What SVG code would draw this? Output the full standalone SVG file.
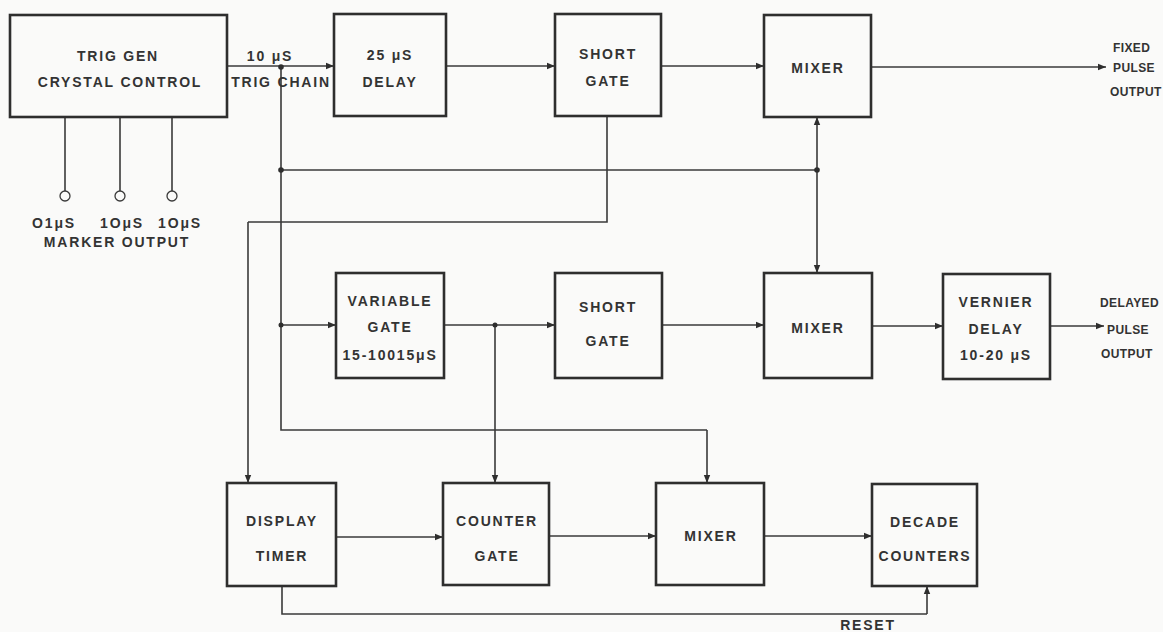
<svg xmlns="http://www.w3.org/2000/svg" width="1163" height="632" viewBox="0 0 1163 632">
<defs>
<style>
.box{fill:none;stroke:#2e2e2e;stroke-width:2.6}
.ln{fill:none;stroke:#3a3a3a;stroke-width:1.6}
.arr{fill:none;stroke:#3a3a3a;stroke-width:1.6;marker-end:url(#ah)}
.t{font-family:"Liberation Sans",Arial,sans-serif;font-weight:bold;font-size:14px;fill:#333;text-anchor:middle;letter-spacing:1.8px}
.tl{font-family:"Liberation Sans",Arial,sans-serif;font-weight:bold;font-size:12px;fill:#333;text-anchor:start;letter-spacing:0.4px}
.dot{fill:#2e2e2e}
.term{fill:none;stroke:#3a3a3a;stroke-width:1.3}
</style>
<marker id="ah" viewBox="0 0 10 10" refX="10" refY="5" markerWidth="8" markerHeight="8" markerUnits="userSpaceOnUse" orient="auto">
<path d="M0,1 L10,5 L0,9 Z" fill="#2e2e2e"/>
</marker>
</defs>
<rect width="1163" height="632" fill="#fafaf9"/>

<g id="connectors">
<line class="ln" x1="65" y1="117" x2="65" y2="191"/>
<line class="ln" x1="120" y1="117" x2="120" y2="191"/>
<line class="ln" x1="172" y1="117" x2="172" y2="191"/>
<circle class="term" cx="65" cy="196" r="5"/>
<circle class="term" cx="120" cy="196" r="5"/>
<circle class="term" cx="172" cy="196" r="5"/>
<line class="arr" x1="227" y1="66" x2="334" y2="66"/>
<line class="arr" x1="446" y1="66" x2="555" y2="66"/>
<line class="arr" x1="661" y1="66" x2="764" y2="66"/>
<line class="arr" x1="871" y1="67" x2="1106" y2="67"/>
<polyline class="ln" points="281,67 281,430 707,430"/>
<line class="arr" x1="707" y1="430" x2="707" y2="483"/>
<line class="ln" x1="281" y1="170" x2="817" y2="170"/>
<line class="arr" x1="817" y1="170" x2="817" y2="117"/>
<line class="arr" x1="817" y1="170" x2="817" y2="273"/>
<polyline class="ln" points="607,116 607,222 248,222"/>
<line class="arr" x1="248" y1="222" x2="248" y2="483"/>
<line class="arr" x1="281" y1="325" x2="336" y2="325"/>
<line class="arr" x1="444" y1="325" x2="555" y2="325"/>
<line class="arr" x1="495" y1="325" x2="495" y2="483"/>
<line class="arr" x1="662" y1="325" x2="764" y2="325"/>
<line class="arr" x1="872" y1="326" x2="943" y2="326"/>
<line class="arr" x1="1050" y1="326" x2="1104" y2="326"/>
<line class="arr" x1="336" y1="537" x2="443" y2="537"/>
<line class="arr" x1="549" y1="536" x2="656" y2="536"/>
<line class="arr" x1="764" y1="536" x2="872" y2="536"/>
<polyline class="ln" points="282,586 282,614 927,614"/>
<line class="arr" x1="927" y1="614" x2="927" y2="586"/>
<circle class="dot" cx="281" cy="67" r="2.8"/>
<circle class="dot" cx="281" cy="170" r="2.8"/>
<circle class="dot" cx="817" cy="170" r="2.8"/>
<circle class="dot" cx="281" cy="325" r="2.5"/>
<circle class="dot" cx="495" cy="325" r="2.5"/>
</g>

<g id="trig-gen">
<rect class="box" x="10" y="15" width="217" height="102"/>
<text class="t" x="118" y="61">TRIG   GEN</text>
<text class="t" x="120" y="87">CRYSTAL  CONTROL</text>
</g>
<g id="marker-labels">
<text class="t" x="54" y="228">O1μS</text>
<text class="t" x="122" y="228">1OμS</text>
<text class="t" x="180" y="228">1OμS</text>
<text class="t" x="117" y="247">MARKER  OUTPUT</text>
</g>
<g id="trig-chain-label">
<text class="t" x="270" y="61">10 μS</text>
<text class="t" x="281" y="87">TRIG CHAIN</text>
</g>
<g id="delay25">
<rect class="box" x="334" y="14" width="112" height="102"/>
<text class="t" x="390" y="60">25 μS</text>
<text class="t" x="390" y="87">DELAY</text>
</g>
<g id="short-gate-1">
<rect class="box" x="555" y="14" width="106" height="102"/>
<text class="t" x="608" y="59">SHORT</text>
<text class="t" x="608" y="86">GATE</text>
</g>
<g id="mixer-1">
<rect class="box" x="764" y="15" width="107" height="102"/>
<text class="t" x="818" y="73">MIXER</text>
</g>
<g id="fixed-output">
<text class="tl" x="1113" y="52">FIXED</text>
<text class="tl" x="1113" y="72">PULSE</text>
<text class="tl" x="1110" y="96">OUTPUT</text>
</g>
<g id="variable-gate">
<rect class="box" x="336" y="273" width="108" height="105"/>
<text class="t" x="390" y="306">VARIABLE</text>
<text class="t" x="390" y="332">GATE</text>
<text class="t" x="390" y="360">15-10015μS</text>
</g>
<g id="short-gate-2">
<rect class="box" x="555" y="273" width="107" height="105"/>
<text class="t" x="608" y="312">SHORT</text>
<text class="t" x="608" y="346">GATE</text>
</g>
<g id="mixer-2">
<rect class="box" x="764" y="273" width="108" height="105"/>
<text class="t" x="818" y="333">MIXER</text>
</g>
<g id="vernier-delay">
<rect class="box" x="943" y="274" width="107" height="105"/>
<text class="t" x="996" y="307">VERNIER</text>
<text class="t" x="996" y="334">DELAY</text>
<text class="t" x="996" y="360">10-20 μS</text>
</g>
<g id="delayed-output">
<text class="tl" x="1100" y="307">DELAYED</text>
<text class="tl" x="1107" y="334">PULSE</text>
<text class="tl" x="1101" y="358">OUTPUT</text>
</g>
<g id="display-timer">
<rect class="box" x="227" y="483" width="109" height="103"/>
<text class="t" x="282" y="526">DISPLAY</text>
<text class="t" x="282" y="561">TIMER</text>
</g>
<g id="counter-gate">
<rect class="box" x="443" y="483" width="106" height="102"/>
<text class="t" x="497" y="526">COUNTER</text>
<text class="t" x="497" y="561">GATE</text>
</g>
<g id="mixer-3">
<rect class="box" x="656" y="483" width="108" height="102"/>
<text class="t" x="711" y="541">MIXER</text>
</g>
<g id="decade-counters">
<rect class="box" x="872" y="484" width="105" height="102"/>
<text class="t" x="925" y="527">DECADE</text>
<text class="t" x="925" y="561">COUNTERS</text>
</g>
<g id="reset-label">
<text class="t" x="868" y="630">RESET</text>
</g>
</svg>
